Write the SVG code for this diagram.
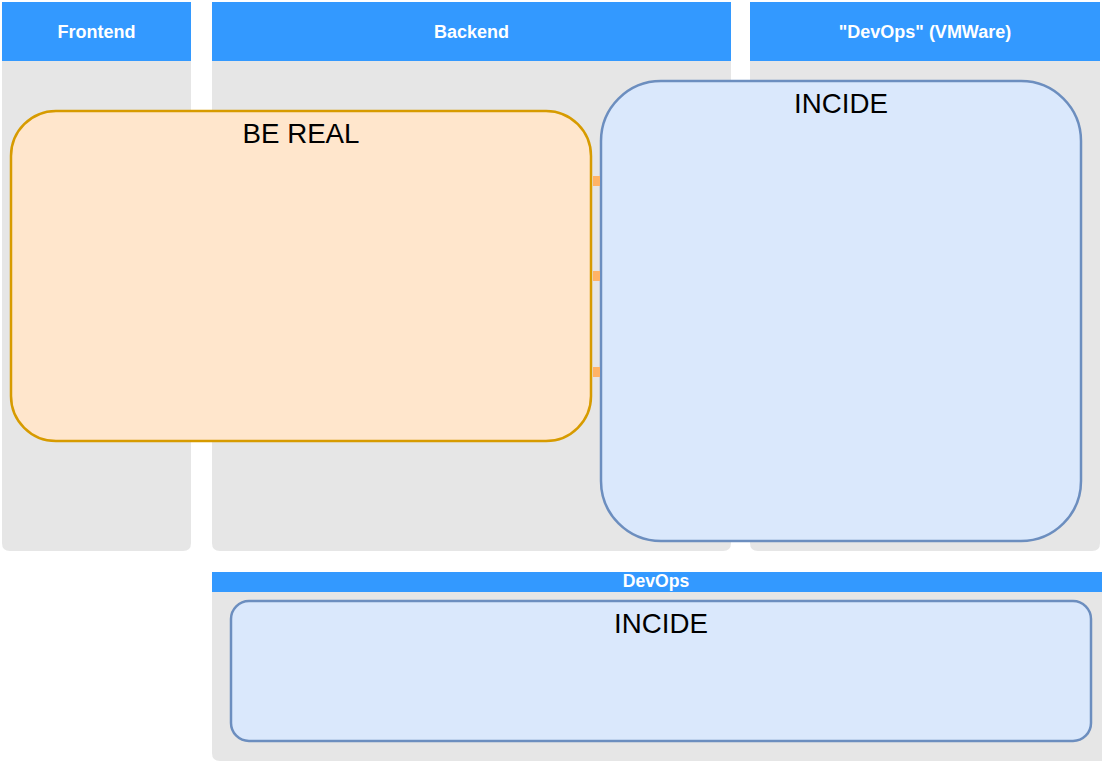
<svg xmlns="http://www.w3.org/2000/svg" width="1102" height="765" viewBox="0 0 1102 765">
<style>
.lane{fill:#e6e6e6;}
.hdr{fill:#3399ff;}
.hdrtxt{font-family:"Liberation Sans",Arial,sans-serif;font-weight:bold;fill:#ffffff;text-anchor:middle;}
.orange{fill:#ffe6cc;stroke:#d79b00;stroke-width:2.5;}
.blue{fill:#dae8fc;stroke:#6c8ebf;stroke-width:2.5;}
.lbl{font-family:"Liberation Sans",Arial,sans-serif;font-size:27.7px;fill:#000000;text-anchor:middle;}
.conn{stroke:#ffb366;stroke-width:10;fill:none;}
</style>
<rect width="1102" height="765" fill="#ffffff"/>
<g id="lane-frontend">
<path class="lane" d="M2,61 H191 V543 Q191,551 183,551 H10 Q2,551 2,543 Z"/>
<rect class="hdr" x="2" y="2" width="189" height="59"/>
<text class="hdrtxt" x="96.5" y="38" font-size="18">Frontend</text>
</g>
<g id="lane-backend">
<path class="lane" d="M212,61 H731 V543 Q731,551 723,551 H220 Q212,551 212,543 Z"/>
<rect class="hdr" x="212" y="2" width="519" height="59"/>
<text class="hdrtxt" x="471.5" y="38" font-size="18">Backend</text>
</g>
<g id="lane-devops-vmware">
<path class="lane" d="M750,61 H1100 V543 Q1100,551 1092,551 H758 Q750,551 750,543 Z"/>
<rect class="hdr" x="750" y="2" width="350" height="59"/>
<text class="hdrtxt" x="925" y="38" font-size="18">"DevOps" (VMWare)</text>
</g>
<g id="lane-devops">
<path class="lane" d="M212,592 H1102 V761 H220 Q212,761 212,753 Z"/>
<rect class="hdr" x="212" y="572" width="890" height="20"/>
<text class="hdrtxt" x="656" y="587" font-size="17.6">DevOps</text>
</g>
<g id="be-real">
<rect class="orange" x="11" y="111" width="580" height="330" rx="45" ry="45"/>
<text class="lbl" x="301" y="143">BE REAL</text>
</g>
<g id="incide-vmware">
<rect class="blue" x="601" y="81" width="480" height="460" rx="60" ry="60"/>
<text class="lbl" x="841" y="113">INCIDE</text>
</g>
<g id="incide-devops">
<rect class="blue" x="231" y="601" width="860" height="140" rx="18" ry="18"/>
<text class="lbl" x="661" y="633">INCIDE</text>
</g>
<g id="connectors">
<line class="conn" x1="593" y1="181" x2="600" y2="181"/>
<line class="conn" x1="593" y1="276" x2="600" y2="276"/>
<line class="conn" x1="593" y1="372" x2="600" y2="372"/>
</g>
</svg>
